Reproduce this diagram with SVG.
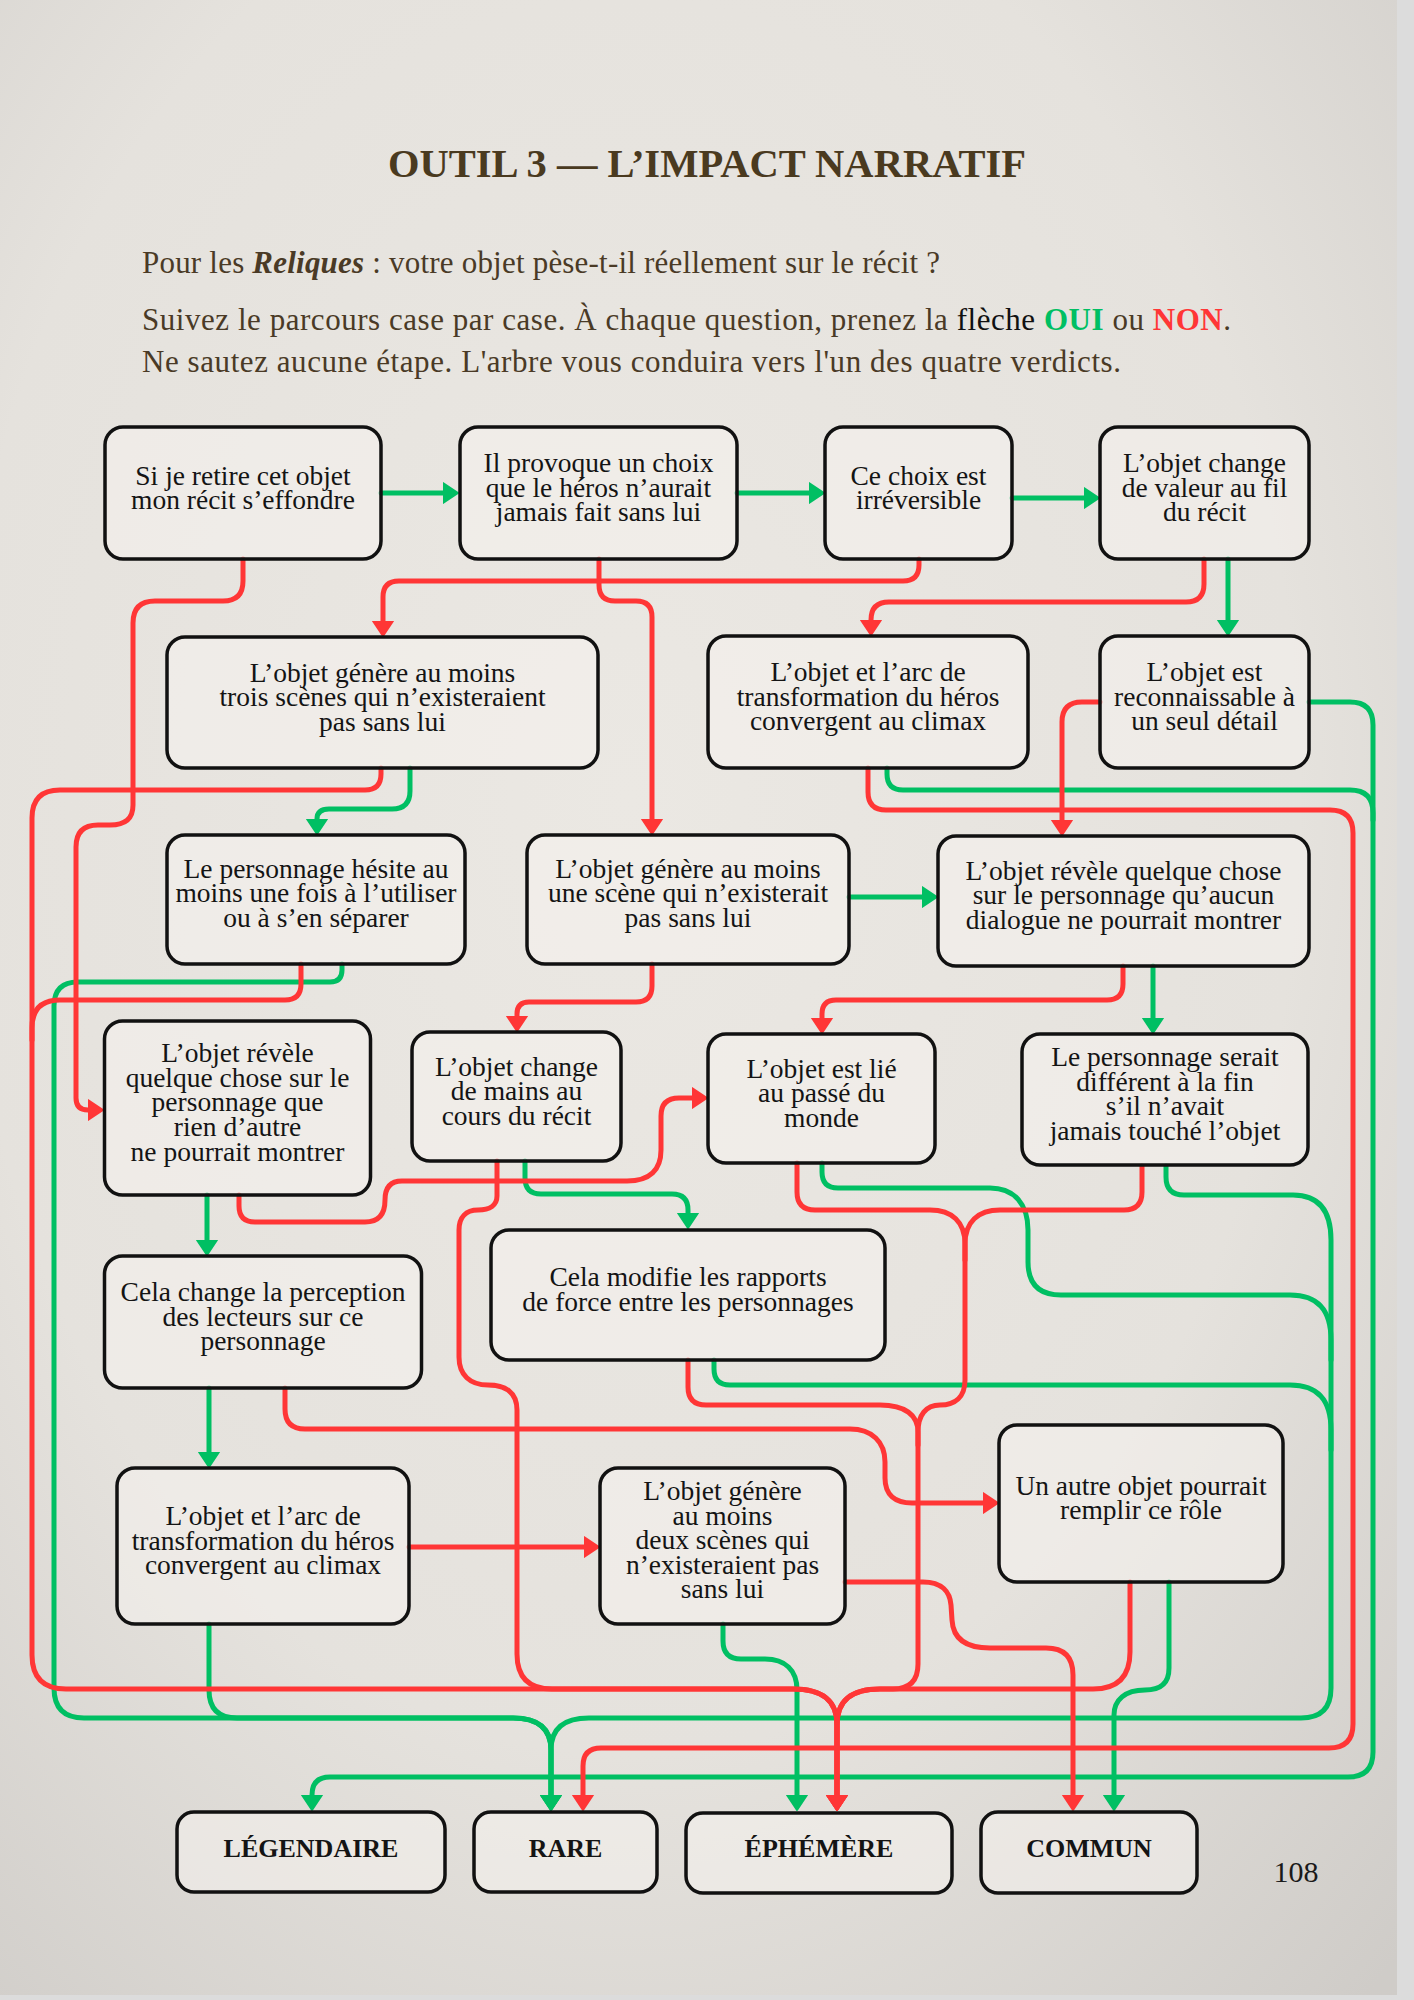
<svg xmlns="http://www.w3.org/2000/svg" width="1414" height="2000" viewBox="0 0 1414 2000">
<defs>
<radialGradient id="paper" cx="0.45" cy="0.4" r="0.8">
<stop offset="0" stop-color="#ebe8e3"/>
<stop offset="0.6" stop-color="#e5e2dd"/>
<stop offset="1" stop-color="#cfccc8"/>
</radialGradient>
<marker id="ag" viewBox="0 -12 17 24" refX="0" refY="0" markerWidth="17" markerHeight="24" markerUnits="userSpaceOnUse" orient="auto">
<path d="M0,-10 L15,0 L0,10 Z" fill="#00bf63" stroke="#00bf63" stroke-width="2" stroke-linejoin="round"/>
</marker>
<marker id="ar" viewBox="0 -12 17 24" refX="0" refY="0" markerWidth="17" markerHeight="24" markerUnits="userSpaceOnUse" orient="auto">
<path d="M0,-10 L15,0 L0,10 Z" fill="#ff3636" stroke="#ff3636" stroke-width="2" stroke-linejoin="round"/>
</marker>
</defs>
<style>
.node rect { fill: rgba(245,243,239,0.55); stroke: #111; stroke-width: 3.5; }
.node text { font-family: "Liberation Serif", "Times New Roman", serif; font-size: 27.5px; fill: #141414; text-anchor: middle; }
.verdict text { font-weight: bold; font-size: 26px; }
#connectors path { fill: none; stroke-width: 5; stroke-linecap: round; stroke-linejoin: round; }
#connectors .yes { stroke: #00bf63; }
#connectors .no { stroke: #ff3636; }
.title { font-family: "Liberation Serif", serif; font-weight: bold; font-size: 40px; fill: #4a3a1f; text-anchor: middle; }
.intro { font-family: "Liberation Serif", serif; font-size: 31px; fill: #4a3a26; }
</style>
<rect x="0" y="0" width="1414" height="2000" fill="#dcdcdc"/>
<rect x="0" y="0" width="1397" height="1995" fill="url(#paper)"/>

<text class="title" x="707" y="177" textLength="638" lengthAdjust="spacingAndGlyphs">OUTIL 3 — L’IMPACT NARRATIF</text>
<text class="intro" x="142" y="273" textLength="798" lengthAdjust="spacing">Pour les <tspan font-weight="bold" font-style="italic">Reliques</tspan> : votre objet pèse-t-il réellement sur le récit ?</text>
<text class="intro" x="142" y="330" textLength="1089" lengthAdjust="spacing">Suivez le parcours case par case. À chaque question, prenez la <tspan fill="#111">flèche</tspan> <tspan fill="#00bf63" font-weight="bold">OUI</tspan> ou <tspan fill="#ff3636" font-weight="bold">NON</tspan>.</text>
<text class="intro" x="142" y="372" textLength="979" lengthAdjust="spacing">Ne sautez aucune étape. L'arbre vous conduira vers l'un des quatre verdicts.</text>

<g id="connectors">
<!-- YES -->
<path class="yes" d="M381,493 H443" marker-end="url(#ag)"/>
<path class="yes" d="M737,493 H809" marker-end="url(#ag)"/>
<path class="yes" d="M1012,498 H1084" marker-end="url(#ag)"/>
<path class="yes" d="M1228,559 V620" marker-end="url(#ag)"/>
<path class="yes" d="M410,768 V791 Q410,809 392,809 H329 Q317,809 317,819" marker-end="url(#ag)"/>
<path class="yes" d="M342,964 V970 Q342,982 330,982 H78 Q54,982 54,1006 V1688 Q54,1718 84,1718 H513 C540,1718 551,1730 551,1750 V1795" marker-end="url(#ag)"/>
<path class="yes" d="M209,1624 V1690 Q209,1718 237,1718 H513 C540,1718 551,1730 551,1750 V1795" marker-end="url(#ag)"/>
<path class="yes" d="M1166,1166 V1177 Q1166,1195 1184,1195 H1293 C1318,1195 1331,1210 1331,1240 V1688 Q1331,1718 1301,1718 H589 C562,1718 551,1730 551,1750 V1795" marker-end="url(#ag)"/>
<path class="yes" d="M822,1163 V1172 Q822,1188 838,1188 H990 C1015,1188 1028,1205 1028,1230 V1262 Q1028,1295 1061,1295 H1290 C1318,1295 1331,1310 1331,1340 V1360"/>
<path class="yes" d="M714,1360 V1369 Q714,1385 730,1385 H1290 C1318,1385 1331,1400 1331,1430 V1450"/>
<path class="yes" d="M525,1161 V1178 Q525,1194 541,1194 H672 Q688,1194 688,1210 V1213" marker-end="url(#ag)"/>
<path class="yes" d="M887,768 V774 Q887,790 903,790 H1350 Q1373,790 1373,813 V1752 Q1373,1777 1348,1777 H330 Q312,1777 312,1795" marker-end="url(#ag)"/>
<path class="yes" d="M1309,702 H1350 Q1373,702 1373,725 V820"/>
<path class="yes" d="M849,897 H922" marker-end="url(#ag)"/>
<path class="yes" d="M1153,966 V1018" marker-end="url(#ag)"/>
<path class="yes" d="M207,1195 V1240" marker-end="url(#ag)"/>
<path class="yes" d="M209,1388 V1452" marker-end="url(#ag)"/>
<path class="yes" d="M723,1624 V1641 Q723,1659 741,1659 H765 C785,1659 797,1670 797,1690 V1795" marker-end="url(#ag)"/>
<path class="yes" d="M1169,1582 V1668 C1169,1684 1160,1690 1145,1690 C1125,1690 1114,1700 1114,1715 V1795" marker-end="url(#ag)"/>
<!-- NO -->
<path class="no" d="M243,559 V581 Q243,601 223,601 H155 Q133,601 133,623 V805 C133,819 125,825 110,825 H98 C84,825 76,832 76,847 V1098 Q76,1110 88,1110" marker-end="url(#ar)"/>
<path class="no" d="M599,559 V585 Q599,601 615,601 H636 Q652,601 652,617 V819" marker-end="url(#ar)"/>
<path class="no" d="M919,559 V565 Q919,581 903,581 H399 Q383,581 383,597 V621" marker-end="url(#ar)"/>
<path class="no" d="M1204,559 V584 Q1204,602 1186,602 H889 Q871,602 871,620" marker-end="url(#ar)"/>
<path class="no" d="M381,768 V774 Q381,790 365,790 H60 Q32,790 32,818 V1655 Q32,1689 66,1689 H793 C822,1689 837,1700 837,1725 V1795" marker-end="url(#ar)"/>
<path class="no" d="M301,964 V984 Q301,1000 285,1000 H60 Q32,1000 32,1028 V1040"/>
<path class="no" d="M868,768 V792 Q868,810 886,810 H1330 Q1353,810 1353,833 V1724 Q1353,1748 1329,1748 H601 Q583,1748 583,1766 V1795" marker-end="url(#ar)"/>
<path class="no" d="M1100,702 H1082 Q1062,702 1062,722 V820" marker-end="url(#ar)"/>
<path class="no" d="M652,964 V986 Q652,1002 636,1002 H529 Q517,1002 517,1014 V1016" marker-end="url(#ar)"/>
<path class="no" d="M1123,966 V984 Q1123,1000 1107,1000 H836 Q822,1000 822,1014 V1018" marker-end="url(#ar)"/>
<path class="no" d="M239,1195 V1206 Q239,1222 255,1222 H365 C378,1222 385,1215 385,1200 C385,1188 390,1181 402,1181 H627 C650,1181 661,1170 661,1150 V1116 Q661,1098 679,1098 H692" marker-end="url(#ar)"/>
<path class="no" d="M497,1161 V1196 C497,1205 490,1210 478,1210 C466,1210 459,1217 459,1230 V1357 C459,1375 470,1385 488,1385 C505,1385 517,1392 517,1410 V1654 Q517,1689 552,1689 H793 C822,1689 837,1700 837,1725 V1795" marker-end="url(#ar)"/>
<path class="no" d="M797,1163 V1192 Q797,1210 815,1210 H930 C952,1210 965,1222 965,1244 V1380 C965,1397 955,1405 940,1405 C926,1405 918,1415 918,1432 V1664 Q918,1689 893,1689 H880 C852,1689 837,1700 837,1725 V1795" marker-end="url(#ar)"/>
<path class="no" d="M1142,1166 V1192 Q1142,1210 1124,1210 H1000 C978,1210 965,1222 965,1244 V1260"/>
<path class="no" d="M688,1360 V1387 Q688,1405 706,1405 H880 C905,1405 918,1415 918,1432 V1445"/>
<path class="no" d="M285,1388 V1409 Q285,1429 305,1429 H850 C872,1429 885,1442 885,1462 V1478 C885,1495 895,1503 912,1503 H983" marker-end="url(#ar)"/>
<path class="no" d="M409,1547 H584" marker-end="url(#ar)"/>
<path class="no" d="M845,1582 H923 C942,1582 950,1592 951,1605 L952,1620 C953,1638 965,1648 990,1648 H1046 Q1073,1648 1073,1675 V1795" marker-end="url(#ar)"/>
<path class="no" d="M1130,1582 V1652 Q1130,1689 1093,1689 H880 C852,1689 837,1700 837,1725 V1795" marker-end="url(#ar)"/>
</g>

<g id="n1" class="node"><rect x="105" y="427" width="276" height="132" rx="18"/><text><tspan x="243" y="485">Si je retire cet objet</tspan><tspan x="243" y="509">mon récit s’effondre</tspan></text></g>
<g id="n2" class="node"><rect x="460" y="427" width="277" height="132" rx="18"/><text><tspan x="598.5" y="472">Il provoque un choix</tspan><tspan x="598.5" y="497">que le héros n’aurait</tspan><tspan x="598.5" y="521">jamais fait sans lui</tspan></text></g>
<g id="n3" class="node"><rect x="825" y="427" width="187" height="132" rx="18"/><text><tspan x="918.5" y="485">Ce choix est</tspan><tspan x="918.5" y="509">irréversible</tspan></text></g>
<g id="n4" class="node"><rect x="1100" y="427" width="209" height="132" rx="18"/><text><tspan x="1204.5" y="472">L’objet change</tspan><tspan x="1204.5" y="497">de valeur au fil</tspan><tspan x="1204.5" y="521">du récit</tspan></text></g>
<g id="n5" class="node"><rect x="167" y="637" width="431" height="131" rx="18"/><text><tspan x="382.5" y="682">L’objet génère au moins</tspan><tspan x="382.5" y="706">trois scènes qui n’existeraient</tspan><tspan x="382.5" y="731">pas sans lui</tspan></text></g>
<g id="n6" class="node"><rect x="708" y="636" width="320" height="132" rx="18"/><text><tspan x="868" y="681">L’objet et l’arc de</tspan><tspan x="868" y="706">transformation du héros</tspan><tspan x="868" y="730">convergent au climax</tspan></text></g>
<g id="n7" class="node"><rect x="1100" y="636" width="209" height="132" rx="18"/><text><tspan x="1204.5" y="681">L’objet est</tspan><tspan x="1204.5" y="706">reconnaissable à</tspan><tspan x="1204.5" y="730">un seul détail</tspan></text></g>
<g id="n8" class="node"><rect x="167" y="835" width="298" height="129" rx="18"/><text><tspan x="316" y="878">Le personnage hésite au</tspan><tspan x="316" y="902">moins une fois à l’utiliser</tspan><tspan x="316" y="927">ou à s’en séparer</tspan></text></g>
<g id="n9" class="node"><rect x="527" y="835" width="322" height="129" rx="18"/><text><tspan x="688" y="878">L’objet génère au moins</tspan><tspan x="688" y="902">une scène qui n’existerait</tspan><tspan x="688" y="927">pas sans lui</tspan></text></g>
<g id="n10" class="node"><rect x="938" y="836" width="371" height="130" rx="18"/><text><tspan x="1123.5" y="880">L’objet révèle quelque chose</tspan><tspan x="1123.5" y="904">sur le personnage qu’aucun</tspan><tspan x="1123.5" y="929">dialogue ne pourrait montrer</tspan></text></g>
<g id="n11" class="node"><rect x="104.5" y="1021" width="266" height="174" rx="18"/><text><tspan x="237.5" y="1062">L’objet révèle</tspan><tspan x="237.5" y="1087">quelque chose sur le</tspan><tspan x="237.5" y="1111">personnage que</tspan><tspan x="237.5" y="1136">rien d’autre</tspan><tspan x="237.5" y="1161">ne pourrait montrer</tspan></text></g>
<g id="n12" class="node"><rect x="412" y="1032" width="209" height="129" rx="18"/><text><tspan x="516.5" y="1076">L’objet change</tspan><tspan x="516.5" y="1100">de mains au</tspan><tspan x="516.5" y="1125">cours du récit</tspan></text></g>
<g id="n13" class="node"><rect x="708" y="1034" width="227" height="129" rx="18"/><text><tspan x="821.5" y="1078">L’objet est lié</tspan><tspan x="821.5" y="1102">au passé du</tspan><tspan x="821.5" y="1127">monde</tspan></text></g>
<g id="n14" class="node"><rect x="1022" y="1034" width="286" height="131" rx="18"/><text><tspan x="1165" y="1066">Le personnage serait</tspan><tspan x="1165" y="1091">différent à la fin</tspan><tspan x="1165" y="1115">s’il n’avait</tspan><tspan x="1165" y="1140">jamais touché l’objet</tspan></text></g>
<g id="n15" class="node"><rect x="104.5" y="1256" width="317" height="132" rx="18"/><text><tspan x="263" y="1301">Cela change la perception</tspan><tspan x="263" y="1326">des lecteurs sur ce</tspan><tspan x="263" y="1350">personnage</tspan></text></g>
<g id="n16" class="node"><rect x="491" y="1230" width="394" height="130" rx="18"/><text><tspan x="688" y="1286">Cela modifie les rapports</tspan><tspan x="688" y="1311">de force entre les personnages</tspan></text></g>
<g id="n17" class="node"><rect x="117" y="1468" width="292" height="156" rx="18"/><text><tspan x="263" y="1525">L’objet et l’arc de</tspan><tspan x="263" y="1550">transformation du héros</tspan><tspan x="263" y="1574">convergent au climax</tspan></text></g>
<g id="n18" class="node"><rect x="600" y="1468" width="245" height="156" rx="18"/><text><tspan x="722.5" y="1500">L’objet génère</tspan><tspan x="722.5" y="1525">au moins</tspan><tspan x="722.5" y="1549">deux scènes qui</tspan><tspan x="722.5" y="1574">n’existeraient pas</tspan><tspan x="722.5" y="1598">sans lui</tspan></text></g>
<g id="n19" class="node"><rect x="999" y="1425" width="284" height="157" rx="18"/><text><tspan x="1141" y="1495">Un autre objet pourrait</tspan><tspan x="1141" y="1519">remplir ce rôle</tspan></text></g>

<g id="v-legendaire" class="node verdict"><rect x="177" y="1812" width="268" height="80" rx="17"/><text x="311" y="1857">LÉGENDAIRE</text></g>
<g id="v-rare" class="node verdict"><rect x="474" y="1812" width="183" height="80" rx="17"/><text x="565.5" y="1857">RARE</text></g>
<g id="v-ephemere" class="node verdict"><rect x="686" y="1813" width="266" height="80" rx="17"/><text x="819" y="1857">ÉPHÉMÈRE</text></g>
<g id="v-commun" class="node verdict"><rect x="981" y="1812" width="216" height="81" rx="17"/><text x="1089" y="1857">COMMUN</text></g>

<text x="1296" y="1882" font-family="Liberation Serif, serif" font-size="30" fill="#1a1a1a" text-anchor="middle">108</text>
</svg>
